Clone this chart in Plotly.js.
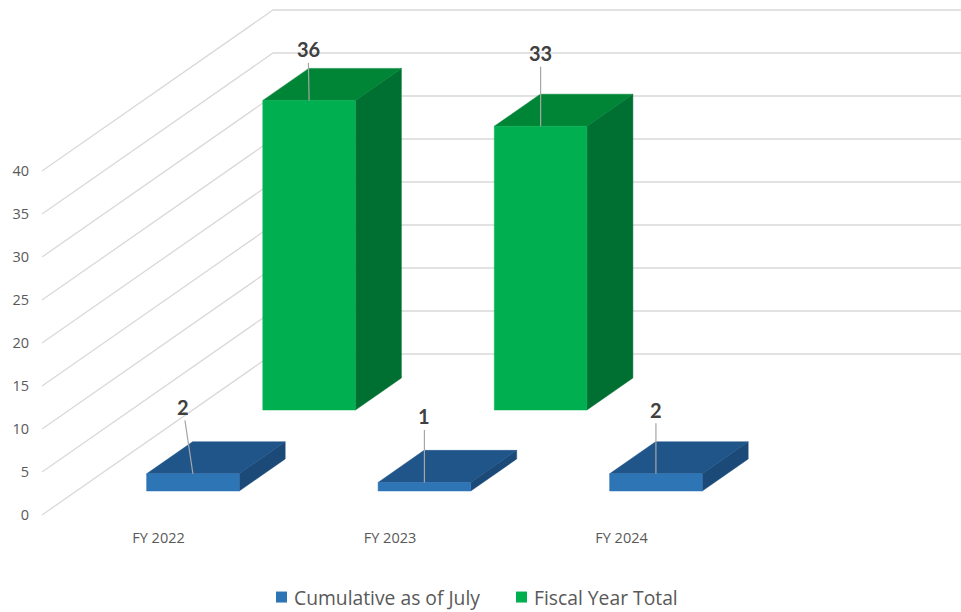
<!DOCTYPE html>
<html>
<head>
<meta charset="utf-8">
<script src="https://cdn.plot.ly/plotly-3.0.1.min.js"></script>
<style>html,body{margin:0;padding:0;background:#fff;width:961px;height:612px;overflow:hidden}#chart{width:961px;height:630px}</style>
</head>
<body>
<div id="chart"></div>
<script>
const categories = ['FY 2022', 'FY 2023', 'FY 2024'];
const cumulativeValues = [2, 1, 2];
const fiscalValues = [36, 33, null];
const yTicks = [0, 5, 10, 15, 20, 25, 30, 35, 40];

// Oblique projection of the 3D box space onto the 2D axes
const PXX = 231.5, PXY = 8.6;
const depthX = 231 / PXX, depthY = 161 / PXY;
const barHalf = 0.2;
const project = (c, d, v) => [c + depthX * d, v + depthY * d];

function poly(pts) {
  const p = pts.map(a => project(a[0], a[1], a[2]));
  p.push(p[0]);
  return p;
}
function faces(values, d0, d1) {
  const out = {front: [], side: [], top: []};
  values.forEach((v, i) => {
    if (v === null) return;
    const l = i - barHalf, r = i + barHalf;
    out.front.push(poly([[l,d0,0],[r,d0,0],[r,d0,v],[l,d0,v]]));
    out.side.push(poly([[r,d0,0],[r,d1,0],[r,d1,v],[r,d0,v]]));
    out.top.push(poly([[l,d0,v],[r,d0,v],[r,d1,v],[l,d1,v]]));
  });
  return out;
}
function faceTrace(polys, color) {
  const x = [], y = [];
  polys.forEach(p => { p.forEach(q => { x.push(q[0]); y.push(q[1]); }); x.push(null); y.push(null); });
  return {type:'scatter', mode:'lines', x, y, fill:'toself', fillcolor:color,
          line:{color:color, width:0.5}, showlegend:false, hoverinfo:'skip'};
}
const xMin = (42 - 158.5) / PXX, xMax = (961 - 158.5) / PXX;
const gx = [], gy = [];
yTicks.forEach(v => {
  const a = project(xMin, 0, v), b = project(xMin, 1, v);
  gx.push(a[0], b[0], xMax, null);
  gy.push(a[1], b[1], b[1], null);
});
const grid = {type:'scatter', mode:'lines', x:gx, y:gy, line:{color:'#d9d9d9', width:1.3},
              showlegend:false, hoverinfo:'skip'};

const blue = faces(cumulativeValues, 0.149, 0.348);
const green = faces(fiscalValues, 0.652, 0.851);

const legendEntry = (name, color) => ({type:'scatter', mode:'markers', x:[null], y:[null], name,
  marker:{symbol:'square', size:11, color}, hoverinfo:'skip'});

const traces = [
  grid,
  faceTrace(green.side, '#006f32'),
  faceTrace(green.top, '#008537'),
  faceTrace(green.front, '#00b050'),
  faceTrace(blue.side, '#1c4a78'),
  faceTrace(blue.top, '#20558a'),
  faceTrace(blue.front, '#2e75b6'),
  legendEntry('Cumulative as of July', '#2e75b6'),
  legendEntry('Fiscal Year Total', '#00b050')
];

function label(c, d, v, ax, ay) {
  const p = project(c, d, v);
  return {x:p[0], y:p[1], xref:'x', yref:'y', text:String(v), showarrow:true, arrowhead:0,
    arrowwidth:1.2, arrowcolor:'#a6a6a6', ax, ay, axref:'pixel', ayref:'pixel',
    font:{family:'Lato, sans-serif', size:20, color:'#404040', weight:700}};
}
const labelOffsets = {blue:[[-10,-67],[0,-66],[0,-64]], green:[[-1,-51],[0,-73]]};
const annotations = [];
cumulativeValues.forEach((v,i) => annotations.push(label(i,0.149,v,labelOffsets.blue[i][0],labelOffsets.blue[i][1])));
fiscalValues.forEach((v,i) => { if (v !== null) annotations.push(label(i,0.652,v,labelOffsets.green[i][0],labelOffsets.green[i][1])); });

const layout = {
  width:961, height:630,
  margin:{l:42, r:0, t:0, b:18},
  paper_bgcolor:'#fff', plot_bgcolor:'#fff',
  font:{family:'Open Sans, sans-serif', color:'#595959'},
  showlegend:true,
  legend:{orientation:'h', x:(254-42)/919, xanchor:'left', xref:'paper', y:(612-578)/612, yanchor:'top',
          entrywidth:195, entrywidthmode:'pixels',
          font:{size:19.3, color:'#595959'}, traceorder:'normal', itemclick:false, itemdoubleclick:false},
  xaxis:{range:[xMin, xMax], anchor:'free', position:(612-527.5)/612, tickmode:'array',
         tickvals:categories.map((c,i)=>i), ticktext:categories,
         showgrid:false, zeroline:false, showline:false, ticks:'', tickfont:{size:14.5, color:'#595959'}, fixedrange:true},
  yaxis:{range:[(515-612)/PXY, 515/PXY], tickmode:'array', tickvals:yTicks, ticktext:yTicks.map(String),
         showgrid:false, zeroline:false, showline:false, ticks:'', tickfont:{size:14.5, color:'#595959'},
         ticklabelstandoff:12, fixedrange:true},
  annotations
};
Plotly.newPlot('chart', traces, layout, {displayModeBar:false, staticPlot:true}).then(gd => {
  // Legend keys sit closer to their text in the reference
  gd.querySelectorAll('.legendpoints path').forEach(p => {
    const m = /translate\(([-\d.]+),\s*([-\d.]+)\)/.exec(p.getAttribute('transform') || 'translate(20,0)');
    p.setAttribute('transform', 'translate(' + (parseFloat(m[1]) + 7.5) + ',' + m[2] + ')');
  });
});
</script>
</body>
</html>
